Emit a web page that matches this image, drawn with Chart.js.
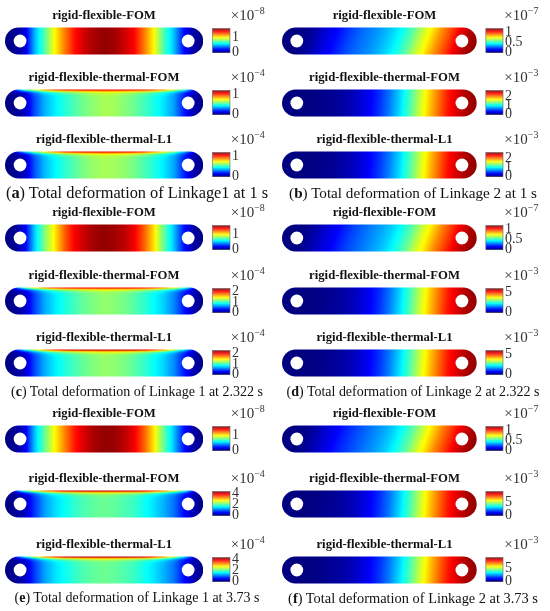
<!DOCTYPE html>
<html lang="en">
<head>
<meta charset="UTF-8">
<title>Total deformation of Linkage 1 and Linkage 2</title>
<script src="https://cdn.jsdelivr.net/npm/chart.js"></script>
<style>
  body { margin: 0; background: #fff; }
  #fig { position: relative; width: 550px; height: 611px; overflow: hidden; background: #fff; }
  #fig canvas { position: absolute; }
  .ttl { position: absolute; font: bold 12.7px "Liberation Serif", serif; color: #111;
         transform: translate(-50%, -50%); white-space: nowrap; line-height: 14px; }
  .exp { position: absolute; font: 15px "Liberation Serif", serif; color: #333;
         white-space: nowrap; line-height: 15px; transform: translateY(-50%); }
  .exp sup { font-size: 10px; line-height: 0; vertical-align: 6px; }
  .cap { position: absolute; font-family: "Liberation Serif", serif; font-size: 14px; color: #111;
         white-space: nowrap; transform: translate(-50%, -50%); line-height: 16px; }
</style>
</head>
<body>
<div id="fig"></div>
<script>
// positions along the linkage (0 = left end, 1 = right end)
const POS = [0, 0.05, 0.1, 0.15, 0.2, 0.25, 0.3, 0.35, 0.4, 0.45, 0.5, 0.55, 0.6, 0.65, 0.7, 0.75, 0.8, 0.85, 0.9, 0.95, 1];

const titles = ['rigid-flexible-FOM', 'rigid-flexible-thermal-FOM', 'rigid-flexible-thermal-L1'];

// Linkage 1 at 1 s
const a1 = [0, 0.03, 0.12, 0.47, 0.71, 0.97, 1.16, 1.33, 1.43, 1.49, 1.52, 1.5, 1.44, 1.36, 1.18, 0.98, 0.7, 0.5, 0.22, 0.06, 0];
const a2 = [0, 0.02, 0.07, 0.24, 0.36, 0.43, 0.49, 0.54, 0.59, 0.62, 0.65, 0.64, 0.61, 0.58, 0.53, 0.48, 0.42, 0.34, 0.19, 0.06, 0];
const a2Top = [0, 0.18, 0.54, 0.7, 0.86, 0.98, 1.03, 1.04, 1.06, 1.06, 1.06, 1.06, 1.06, 1.04, 1.03, 0.98, 0.86, 0.7, 0.54, 0.18, 0];
const a3 = [0, 0.02, 0.07, 0.25, 0.37, 0.44, 0.5, 0.55, 0.6, 0.63, 0.65, 0.64, 0.62, 0.59, 0.54, 0.49, 0.43, 0.35, 0.2, 0.06, 0];
const a3Top = [0, 0.12, 0.4, 0.6, 0.76, 0.9, 1.0, 1.04, 1.06, 1.07, 1.07, 1.07, 1.06, 1.04, 1.0, 0.9, 0.76, 0.6, 0.4, 0.12, 0];

// Linkage 2 at 1 s
const b1 = [0, 0, 0.01, 0.04, 0.1, 0.14, 0.19, 0.24, 0.28, 0.31, 0.35, 0.4, 0.46, 0.55, 0.67, 0.77, 0.88, 0.97, 1.07, 1.14, 1.18];
const b2 = [0, 0, 0, 0, 0.03, 0.05, 0.08, 0.14, 0.22, 0.32, 0.46, 0.65, 0.89, 1.16, 1.49, 1.78, 2.05, 2.3, 2.46, 2.59, 2.65];
const b3 = [0, 0, 0, 0, 0.03, 0.05, 0.09, 0.15, 0.23, 0.34, 0.48, 0.67, 0.9, 1.18, 1.5, 1.8, 2.07, 2.32, 2.48, 2.6, 2.66];

// Linkage 1 at 2.322 s
const c1 = [0, 0.03, 0.16, 0.51, 0.78, 0.99, 1.21, 1.36, 1.44, 1.5, 1.52, 1.5, 1.46, 1.38, 1.22, 1.02, 0.74, 0.5, 0.23, 0.06, 0];
const c2 = [0, 0.05, 0.14, 0.44, 0.67, 0.81, 0.92, 1.01, 1.1, 1.15, 1.2, 1.17, 1.13, 1.06, 0.97, 0.87, 0.76, 0.6, 0.35, 0.12, 0];
const c2Top = [0, 0.35, 1.04, 1.4, 1.7, 1.88, 1.98, 2.0, 2.02, 2.02, 2.02, 2.02, 2.02, 2.0, 1.98, 1.88, 1.7, 1.4, 1.04, 0.35, 0];
const c3 = [0, 0.05, 0.15, 0.45, 0.68, 0.82, 0.93, 1.02, 1.1, 1.16, 1.2, 1.18, 1.14, 1.07, 0.98, 0.88, 0.77, 0.61, 0.36, 0.12, 0];
const c3Top = [0, 0.28, 0.87, 1.3, 1.65, 1.92, 2.07, 2.12, 2.14, 2.14, 2.14, 2.14, 2.14, 2.12, 2.07, 1.92, 1.65, 1.3, 0.87, 0.28, 0];

// Linkage 2 at 2.322 s
const d1 = [0, 0, 0.01, 0.04, 0.09, 0.13, 0.18, 0.23, 0.27, 0.31, 0.35, 0.4, 0.47, 0.56, 0.68, 0.78, 0.89, 0.98, 1.07, 1.14, 1.18];
const d2 = [0, 0, 0, 0, 0.06, 0.12, 0.18, 0.3, 0.47, 0.71, 1.0, 1.42, 1.95, 2.54, 3.25, 3.89, 4.48, 5.02, 5.37, 5.66, 5.78];
const d3 = [0, 0, 0, 0, 0.06, 0.12, 0.19, 0.31, 0.49, 0.73, 1.03, 1.45, 1.98, 2.57, 3.28, 3.92, 4.5, 5.04, 5.38, 5.66, 5.78];

// Linkage 1 at 3.73 s
const e1 = [0, 0.03, 0.14, 0.49, 0.74, 0.97, 1.15, 1.32, 1.42, 1.49, 1.52, 1.51, 1.46, 1.38, 1.22, 1.01, 0.74, 0.5, 0.23, 0.06, 0];
const e2 = [0, 0.09, 0.26, 0.77, 1.2, 1.46, 1.63, 1.81, 1.94, 2.02, 2.06, 2.02, 1.94, 1.85, 1.68, 1.5, 1.29, 1.03, 0.6, 0.22, 0];
const e2Top = [0, 0.65, 1.94, 2.6, 3.2, 3.6, 3.87, 3.96, 4.0, 4.0, 4.0, 4.0, 4.0, 3.96, 3.87, 3.6, 3.2, 2.6, 1.94, 0.65, 0];
const e3 = [0, 0.09, 0.27, 0.79, 1.22, 1.48, 1.65, 1.82, 1.95, 2.03, 2.07, 2.03, 1.95, 1.86, 1.69, 1.51, 1.3, 1.04, 0.61, 0.22, 0];
const e3Top = [0, 0.5, 1.6, 2.4, 3.1, 3.6, 3.92, 4.0, 4.05, 4.05, 4.05, 4.05, 4.05, 4.0, 3.92, 3.6, 3.1, 2.4, 1.6, 0.5, 0];

// Linkage 2 at 3.73 s
const f1 = [0, 0, 0.01, 0.04, 0.09, 0.13, 0.18, 0.22, 0.26, 0.3, 0.34, 0.39, 0.46, 0.55, 0.67, 0.78, 0.89, 0.98, 1.07, 1.14, 1.18];
const f2 = [0, 0, 0, 0, 0.09, 0.18, 0.27, 0.45, 0.72, 1.08, 1.53, 2.16, 2.97, 3.87, 4.95, 5.94, 6.84, 7.65, 8.19, 8.64, 8.82];
const f3 = [0, 0, 0, 0, 0.09, 0.19, 0.29, 0.47, 0.75, 1.1, 1.56, 2.2, 3.0, 3.9, 4.98, 5.96, 6.86, 7.66, 8.2, 8.64, 8.82];

// colorbar ranges and ticks
const cmaxA = [1.55, 1.2, 1.2], ticksA = [[0, 1], [0, 1], [0, 1]];
const cmaxB = [1.2, 2.7, 2.7],  ticksB = [[0, 0.5, 1], [0, 1, 2], [0, 1, 2]];
const cmaxC = [1.55, 2.3, 2.3], ticksC = [[0, 1], [0, 1, 2], [0, 1, 2]];
const cmaxD = [1.2, 5.9, 5.9],  ticksD = [[0, 0.5, 1], [0, 5], [0, 5]];
const cmaxE = [1.55, 4.3, 4.3], ticksE = [[0, 1], [0, 2, 4], [0, 2, 4]];
const cmaxF = [1.2, 9, 9],      ticksF = [[0, 0.5, 1], [0, 5], [0, 5]];
const expL1 = [-8, -4, -4], expL2 = [-7, -3, -3];
const skewL1 = [0, 0, 0], skewL2 = [0.05, 0.01, 0.01];

const captions = [
  ['a', ' Total deformation of Linkage1 at 1 s'],
  ['b', ' Total deformation of Linkage 2 at 1 s'],
  ['c', ' Total deformation of Linkage 1 at 2.322 s'],
  ['d', ' Total deformation of Linkage 2 at 2.322 s'],
  ['e', ' Total deformation of Linkage 1 at 3.73 s'],
  ['f', ' Total deformation of Linkage 2 at 3.73 s']
];

// ---- layout ----
const COL_LEFT = [5, 282], COL_LEN = [198, 195];
const ROW_TOP = [[27, 89, 151], [224, 287, 349], [425, 490, 556]];
const LINK_H = 28;
const CB0 = 1.047, XMAX = 1.135;        // colorbar span in linkage-length units
const CB_BOT = 0.07, CB_TOP = 0.96;     // colorbar span in linkage-height units
const HOLE_S = 0.076, HOLE_R = 0.235;
const CAP_X = [137, 413], CAP_Y = [193, 392, 598];
const CAP_W = [262, 248, 252, 253, 245, 250];

const panels = [
  { col: 0, grp: 0, body: [a1, a2, a3], top: [null, a2Top, a3Top], cmax: cmaxA, ticks: ticksA, exp: expL1, skew: skewL1 },
  { col: 1, grp: 0, body: [b1, b2, b3], top: [null, null, null],   cmax: cmaxB, ticks: ticksB, exp: expL2, skew: skewL2 },
  { col: 0, grp: 1, body: [c1, c2, c3], top: [null, c2Top, c3Top], cmax: cmaxC, ticks: ticksC, exp: expL1, skew: skewL1 },
  { col: 1, grp: 1, body: [d1, d2, d3], top: [null, null, null],   cmax: cmaxD, ticks: ticksD, exp: expL2, skew: skewL2 },
  { col: 0, grp: 2, body: [e1, e2, e3], top: [null, e2Top, e3Top], cmax: cmaxE, ticks: ticksE, exp: expL1, skew: skewL1 },
  { col: 1, grp: 2, body: [f1, f2, f3], top: [null, null, null],   cmax: cmaxF, ticks: ticksF, exp: expL2, skew: skewL2 }
];

function jet(t) {
  t = Math.max(0, Math.min(1, t));
  const c = v => Math.round(255 * Math.max(0, Math.min(1, v)));
  return [c(Math.min(4 * t - 1.5, 4.5 - 4 * t)), c(Math.min(4 * t - 0.5, 3.5 - 4 * t)), c(Math.min(4 * t + 0.5, 2.5 - 4 * t))];
}

function sample(pts, s) {
  s = Math.max(0, Math.min(1, s));
  for (let i = 0; i < pts.length - 1; i++) {
    if (s <= pts[i + 1].x) {
      const f = (s - pts[i].x) / (pts[i + 1].x - pts[i].x);
      return pts[i].y + f * (pts[i + 1].y - pts[i].y);
    }
  }
  return pts[pts.length - 1].y;
}

// weight of the hot top edge, by distance (px) from the top of the linkage
function edgeWeight(d) {
  return Math.exp(-Math.max(0, d - 0.8) / 1.4);
}

const fieldPlugin = {
  id: 'field',
  beforeDatasetsDraw(chart, args, opts) {
    const ctx = chart.ctx;
    const xs = chart.scales.x, ys = chart.scales.y, cs = chart.scales.c;
    const body = chart.data.datasets[0].data;
    const edge = chart.data.datasets[1] ? chart.data.datasets[1].data : null;
    const x0 = xs.getPixelForValue(0), x1 = xs.getPixelForValue(1);
    const yt = ys.getPixelForValue(1), yb = ys.getPixelForValue(0);
    const dpr = chart.currentDevicePixelRatio || 1;
    const W = Math.round((x1 - x0) * dpr), H = Math.round((yb - yt) * dpr);
    const off = document.createElement('canvas');
    off.width = W; off.height = H;
    const octx = off.getContext('2d');
    const img = octx.createImageData(W, H);
    for (let j = 0; j < H; j++) {
      const up = 1 - (j + 0.5) / H;
      const k = edgeWeight((j + 0.5) / dpr);
      for (let i = 0; i < W; i++) {
        const sx = (i + 0.5) / W;
        let v = sample(body, sx - opts.skew * (up - 0.5));
        if (edge) v += (sample(edge, sx) - v) * k;
        const rgb = jet(v / opts.cmax);
        const p = (j * W + i) * 4;
        img.data[p] = rgb[0]; img.data[p + 1] = rgb[1]; img.data[p + 2] = rgb[2]; img.data[p + 3] = 255;
      }
    }
    octx.putImageData(img, 0, 0);
    ctx.save();
    ctx.beginPath();
    ctx.roundRect(x0, yt, x1 - x0, yb - yt, (yb - yt) / 2);
    ctx.clip();
    ctx.drawImage(off, x0, yt, x1 - x0, yb - yt);
    ctx.restore();

    // pin holes
    ctx.fillStyle = '#fff';
    const cy = (yt + yb) / 2, r = HOLE_R * (yb - yt);
    [HOLE_S, 1 - HOLE_S].forEach(s => {
      ctx.beginPath();
      ctx.arc(xs.getPixelForValue(s), cy, r, 0, 2 * Math.PI);
      ctx.fill();
    });

    // colorbar
    const cx0 = xs.getPixelForValue(CB0), cx1 = xs.getPixelForValue(XMAX);
    const ct = cs.getPixelForValue(opts.cmax), cb = cs.getPixelForValue(0);
    const n = Math.ceil((cb - ct) * dpr), step = (cb - ct) / n;
    for (let q = 0; q < n; q++) {
      const rgb = jet(1 - (q + 0.5) / n);
      ctx.fillStyle = 'rgb(' + rgb.join(',') + ')';
      ctx.fillRect(cx0, ct + q * step, cx1 - cx0, step + 0.3);
    }
    ctx.strokeStyle = '#666';
    ctx.lineWidth = 0.6;
    ctx.strokeRect(cx0, ct, cx1 - cx0, cb - ct);
  }
};

const fig = document.getElementById('fig');

function addText(cls, html, x, y) {
  const el = document.createElement('div');
  el.className = cls;
  el.innerHTML = html;
  el.style.left = x + 'px';
  el.style.top = y + 'px';
  fig.appendChild(el);
  return el;
}

function makeSubplot(left, top, len, body, edge, cmax, ticks, skew) {
  const axisW = 30, pad = 10;
  const canvas = document.createElement('canvas');
  canvas.width = Math.round(pad + XMAX * len + axisW);
  canvas.height = LINK_H + 2 * pad;
  fig.appendChild(canvas);
  const span = CB_TOP - CB_BOT;
  const datasets = [{ data: body.map((v, i) => ({ x: POS[i], y: v })), yAxisID: 'c', pointRadius: 0, showLine: false }];
  if (edge) datasets.push({ data: edge.map((v, i) => ({ x: POS[i], y: v })), yAxisID: 'c', pointRadius: 0, showLine: false });
  const chart = new Chart(canvas, {
    type: 'scatter',
    data: { datasets },
    options: {
      responsive: false,
      animation: false,
      events: [],
      layout: { padding: { left: pad, top: pad, bottom: pad, right: 0 } },
      plugins: { legend: { display: false }, tooltip: { enabled: false }, field: { cmax, skew } },
      scales: {
        x: { type: 'linear', min: 0, max: XMAX, display: false },
        y: { type: 'linear', min: 0, max: 1, display: false },
        c: {
          type: 'linear', position: 'right',
          min: -cmax * CB_BOT / span, max: cmax + cmax * (1 - CB_TOP) / span,
          grid: { display: false, drawTicks: false },
          border: { display: false },
          ticks: {
            font: { family: 'Liberation Serif', size: 14 }, color: '#333', padding: 2,
            autoSkip: false, callback: v => String(v)
          },
          afterBuildTicks: s => { s.ticks = ticks.map(v => ({ value: v })); },
          afterFit: s => { s.width = axisW; }
        }
      }
    },
    plugins: [fieldPlugin]
  });
  const area = chart.chartArea;
  canvas.style.left = (left - area.left) + 'px';
  canvas.style.top = (top - area.top) + 'px';
}

panels.forEach((p, pi) => {
  const left = COL_LEFT[p.col], len = COL_LEN[p.col];
  for (let k = 0; k < 3; k++) {
    const top = ROW_TOP[p.grp][k];
    makeSubplot(left, top, len, p.body[k], p.top[k], p.cmax[k], p.ticks[k], p.skew[k]);
    addText('ttl', titles[k], left + len / 2 + (p.col ? 5 : 0), top - 12);
    addText('exp', '\u00d710<sup>\u2212' + Math.abs(p.exp[k]) + '</sup>', left + XMAX * len + 1, top - 12);
  }
  const cap = addText('cap', '(<b>' + captions[pi][0] + '</b>)' + captions[pi][1], CAP_X[p.col], CAP_Y[p.grp]);
  const w = cap.getBoundingClientRect().width;
  cap.style.fontSize = (14 * CAP_W[pi] / w).toFixed(2) + 'px';
});
</script>
</body>
</html>
